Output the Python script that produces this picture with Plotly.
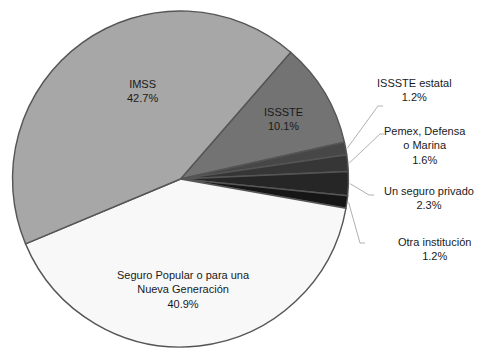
import math
import plotly.graph_objects as go

# ---- data ----
labels = ["ISSSTE", "ISSSTE estatal", "Pemex, Defensa o Marina", "Un seguro privado",
          "Otra institución", "Seguro Popular o para una Nueva Generación", "IMSS"]
values = [10.1, 1.2, 1.6, 2.3, 1.2, 40.9, 42.7]
label_text = ["ISSSTE<br>10.1%", "ISSSTE estatal<br>1.2%", "Pemex, Defensa<br>o Marina<br>1.6%",
              "Un seguro privado<br>2.3%", "Otra institución<br>1.2%",
              "Seguro Popular o para una<br>Nueva Generación<br>40.9%", "IMSS<br>42.7%"]
colors = ["#737373", "#474747", "#363636", "#262626", "#161616", "#f8f8f8", "#a7a7a7"]

W, H = 479, 350
ROT = 41
CX, CY, R = 180.5, 179.0, 168.0

# label placement (pixels) and leader-line elbows for outside labels
label_pos = [(283, 119), (414, 90), (425, 145), (429, 198), (434, 249), (183, 289), (142, 91)]
outside = [False, True, True, True, True, False, False]
elbow = [None, (378, 106), (380, 134), (369, 195), (360, 243), None, None]
elbow_end = [None, (383, 106), (384, 134), (374, 195), (365, 243), None, None]

def px(x):
    return x / W

def py(y):
    return 1 - y / H

fig = go.Figure(go.Pie(
    labels=labels, values=values, sort=False, direction="clockwise", rotation=ROT,
    textinfo="none", hoverinfo="label+percent",
    marker=dict(colors=colors, line=dict(color="#555555", width=1.4)),
    domain=dict(x=[px(CX - R), px(CX + R)], y=[py(CY + R), py(CY - R)]),
    showlegend=False,
))

annotations = []
shapes = []
total = sum(values)
cum = 0.0
for i, v in enumerate(values):
    mid = math.radians(ROT + (cum + v / 2) / total * 360)
    cum += v
    lx, ly = label_pos[i]
    annotations.append(dict(
        x=px(lx), y=py(ly), xref="paper", yref="paper", text=label_text[i],
        showarrow=False, xanchor="center", yanchor="middle", align="center",
        font=dict(family="Liberation Sans, Arial, sans-serif", size=11, color="#1a1a1a"),
    ))
    if outside[i]:
        sx = CX + R * 1.01 * math.sin(mid)
        sy = CY - R * 1.01 * math.cos(mid)
        ex, ey = elbow[i]
        fx, fy = elbow_end[i]
        path = f"M {px(sx)},{py(sy)} L {px(ex)},{py(ey)} L {px(fx)},{py(fy)}"
        shapes.append(dict(type="path", xref="paper", yref="paper", path=path,
                           line=dict(color="#b0b0b0", width=1)))

fig.update_layout(
    width=W, height=H, margin=dict(l=0, r=0, t=0, b=0),
    paper_bgcolor="white", plot_bgcolor="white",
    annotations=annotations, shapes=shapes,
)
fig.write_html("out.html")
